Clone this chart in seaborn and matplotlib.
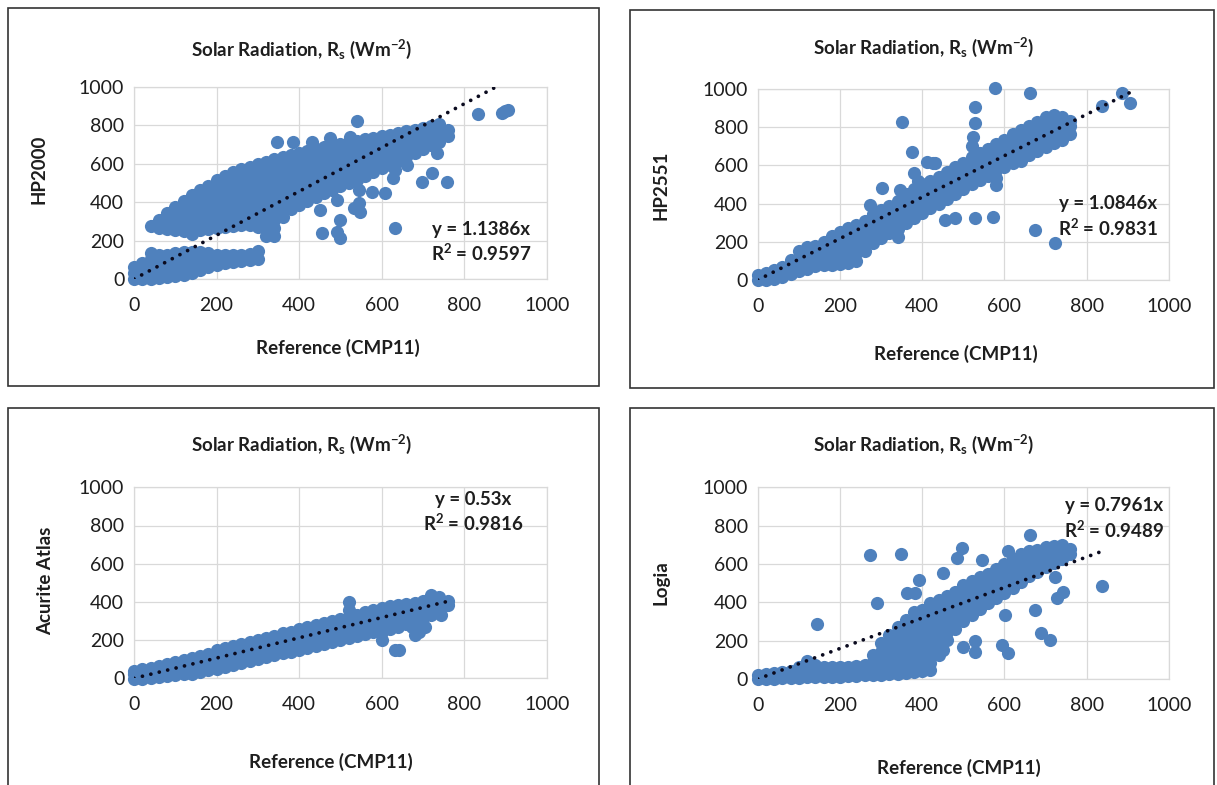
import matplotlib
matplotlib.use("Agg")
import matplotlib.pyplot as plt
import seaborn as sns
import pandas as pd
from matplotlib.patches import Rectangle

# x position of each stacked column of points (Reference CMP11, W m-2)
col_x = [0, 20, 40, 60, 80, 100, 120, 140, 160, 180, 200, 220, 240, 260, 280,
         300, 320, 340, 360, 380, 400, 420, 440, 460, 480, 500, 520, 540, 560,
         580, 600, 620, 640, 660, 680, 700, 720, 740, 760]

# HP2000 readings stacked at each column
hp2000_y = [
    [0, 30, 60], [0, 35, 70, 85], [0, 35, 70, 105, 135, 275],
    [5, 40, 75, 110, 125, 265, 305], [10, 45, 80, 115, 125, 260, 300, 345],
    [15, 50, 85, 120, 135, 255, 295, 335, 375],
    [20, 55, 90, 125, 140, 250, 290, 330, 370, 405],
    [30, 65, 100, 140, 235, 275, 315, 355, 395, 435],
    [45, 80, 110, 140, 255, 295, 335, 375, 415, 465],
    [60, 95, 135, 260, 300, 340, 380, 420, 455, 485],
    [75, 105, 125, 265, 305, 345, 385, 425, 465, 515],
    [85, 125, 270, 310, 350, 390, 430, 470, 505, 535],
    [90, 125, 275, 315, 355, 395, 435, 475, 515, 555],
    [95, 125, 280, 320, 360, 400, 440, 480, 520, 570],
    [100, 130, 280, 320, 360, 400, 440, 480, 520, 555, 585],
    [105, 145, 270, 310, 350, 390, 430, 470, 510, 550, 600],
    [225, 265, 305, 345, 385, 425, 465, 505, 545, 580, 610],
    [225, 265, 305, 345, 385, 425, 465, 505, 545, 585, 625],
    [325, 365, 405, 445, 485, 525, 565, 600, 635],
    [365, 405, 445, 485, 525, 565, 605, 645],
    [385, 425, 465, 505, 545, 585, 620, 655],
    [405, 445, 485, 525, 565, 605, 635, 665],
    [425, 465, 505, 545, 585, 625, 675],
    [445, 485, 525, 565, 605, 645, 685],
    [465, 505, 545, 585, 625, 660, 690],
    [485, 525, 565, 605, 645, 700], [500, 540, 580, 620, 660, 710],
    [515, 555, 595, 635, 675, 720], [535, 575, 615, 655, 695, 730],
    [555, 595, 635, 675, 735], [575, 615, 655, 695, 745],
    [595, 635, 675, 715, 750], [615, 655, 695, 730, 760],
    [635, 675, 715, 770], [655, 695, 735, 775], [675, 715, 750, 785],
    [695, 735, 770, 795], [715, 750, 780, 805], [745, 775],
]
hp2000_out_x = [346, 386, 431, 476, 524, 540, 834, 891, 900, 907, 451, 491, 499,
                455, 491, 499, 474, 532, 544, 548, 544, 576, 608, 628, 633, 661,
                697, 721, 758, 733, 633]
hp2000_out_y = [714, 714, 714, 735, 740, 820, 856, 865, 872, 879, 359, 411, 307,
                237, 246, 211, 497, 367, 393, 350, 463, 454, 445, 523, 567, 593,
                506, 549, 506, 653, 263]

# HP2551
hp2551_y = [
    [0, 25], [0, 35], [5, 50], [15, 45, 70], [30, 65, 105],
    [45, 80, 115, 150], [60, 100, 140, 175], [75, 110, 145, 180],
    [80, 115, 150, 185, 200], [80, 115, 150, 190, 230],
    [85, 125, 165, 205, 250], [90, 130, 170, 210, 250, 270],
    [100, 140, 180, 220, 260, 290], [150, 195, 235, 275, 310],
    [195, 235, 275, 310, 345], [220, 260, 300, 340, 365],
    [245, 285, 325, 360, 385],
    [225, 265, 305, 345, 385, 415], [300, 340, 380, 420, 450],
    [325, 365, 405, 445, 475], [350, 390, 430, 470, 505],
    [375, 415, 455, 490, 520], [400, 440, 480, 515, 540],
    [425, 465, 505, 540, 565], [450, 490, 530, 565, 590],
    [475, 515, 555, 590, 615], [500, 540, 580, 615, 645],
    [525, 565, 605, 640, 665], [545, 585, 625, 665, 685],
    [495, 535, 575, 615, 655, 695, 710], [590, 630, 670, 705, 735],
    [610, 650, 690, 730, 765], [625, 665, 705, 745, 785],
    [655, 695, 735, 770, 805], [675, 715, 755, 790, 825],
    [695, 735, 775, 815, 855], [715, 755, 795, 835, 865],
    [735, 775, 815, 855], [765, 805, 835],
]
hp2551_out_x = [273, 301, 346, 350, 374, 380, 390, 411, 425, 431, 520, 524, 528,
                528, 577, 662, 885, 905, 836, 455, 480, 528, 573, 674, 723]
hp2551_out_y = [393, 480, 471, 829, 672, 560, 520, 620, 615, 611, 700, 750, 820,
                907, 1003, 977, 977, 925, 910, 314, 323, 323, 332, 262, 192]

# Acurite Atlas
acurite_y = [
    [-5, 20, 40], [-5, 25, 50], [0, 30, 55], [5, 35, 65], [10, 45, 75],
    [15, 50, 85], [20, 55, 95], [25, 65, 105], [35, 75, 115], [45, 85, 125],
    [50, 90, 130, 150], [60, 100, 140, 160], [70, 110, 150, 170],
    [80, 120, 155, 180], [90, 130, 165, 190], [100, 140, 175, 200],
    [110, 150, 185, 210], [120, 160, 195, 220], [130, 170, 205, 235],
    [140, 180, 215, 245], [150, 185, 225, 260], [160, 195, 235, 270],
    [170, 205, 245, 280], [180, 215, 255, 290], [190, 225, 265, 300],
    [200, 240, 275, 310], [210, 250, 285, 320, 355, 400],
    [220, 260, 295, 330], [230, 270, 305, 345], [240, 280, 320, 355],
    [200, 240, 280, 320, 355, 370], [260, 300, 340, 380], [270, 310, 350, 385],
    [285, 320, 355, 390], [300, 335, 365, 395], [315, 350, 380, 405],
    [330, 365, 395, 425, 435], [345, 380, 410, 425], [385, 405],
]
acurite_out_x = [632, 642, 673, 681, 690, 705, 742, 745]
acurite_out_y = [148, 150, 270, 227, 240, 270, 340, 330]

# Logia
logia_y = [
    [0, 20], [0, 25], [0, 30], [5, 35], [5, 40], [5, 35, 65], [10, 45, 95],
    [10, 45, 75], [10, 40, 65], [10, 40, 60], [10, 40, 60], [15, 45, 65],
    [15, 45, 70], [20, 50, 75], [20, 55, 90, 125], [20, 60, 100, 140, 190],
    [25, 65, 105, 145, 185, 230], [25, 65, 105, 145, 185, 225, 270],
    [30, 70, 110, 150, 190, 230, 270, 310],
    [35, 75, 115, 155, 195, 235, 275, 315, 350],
    [40, 80, 120, 160, 200, 240, 280, 320, 360],
    [45, 85, 125, 165, 205, 245, 285, 325, 365, 395],
    [125, 165, 205, 245, 285, 325, 365, 410],
    [205, 245, 285, 325, 365, 405, 435], [260, 300, 340, 380, 420, 455],
    [300, 340, 380, 420, 460, 490], [335, 375, 415, 455, 510],
    [365, 405, 445, 485, 530], [395, 435, 475, 515, 550],
    [420, 460, 500, 540, 575], [450, 490, 530, 570, 600],
    [475, 515, 555, 595, 625], [505, 545, 585, 625, 650],
    [535, 575, 615, 655, 670], [560, 600, 640, 675], [585, 625, 660, 690],
    [605, 640, 670, 695], [625, 655, 680, 700], [650, 680],
]
logia_out_x = [143, 273, 348, 289, 362, 383, 391, 451, 496, 484, 545, 609, 662,
               500, 528, 528, 451, 593, 609, 674, 690, 711, 723, 727, 743, 836, 601]
logia_out_y = [287, 647, 652, 398, 447, 447, 517, 551, 685, 630, 621, 668, 751,
               165, 200, 143, 151, 177, 134, 360, 238, 203, 534, 421, 456, 485, 334]

sensors = ["HP2000", "HP2551", "Acurite Atlas", "Logia"]
slopes = [1.1386, 1.0846, 0.53, 0.7961]
r_squared = ["0.9597", "0.9831", "0.9816", "0.9489"]


def build(cols, out_x, out_y):
    xs, ys = [], []
    for x, col in zip(col_x, cols):
        xs += [x] * len(col)
        ys += col
    return pd.DataFrame({"ref": xs + out_x, "sensor": ys + out_y})


frames = [
    build(hp2000_y, hp2000_out_x, hp2000_out_y),
    build(hp2551_y, hp2551_out_x, hp2551_out_y),
    build(acurite_y, acurite_out_x, acurite_out_y),
    build(logia_y, logia_out_x, logia_out_y),
]

sns.set_style("white")
plt.rcParams["font.family"] = ["Lato", "DejaVu Sans"]
plt.rcParams["mathtext.fontset"] = "custom"
plt.rcParams["mathtext.rm"] = "Lato"
plt.rcParams["mathtext.bf"] = "Lato:bold"
plt.rcParams["mathtext.it"] = "Lato:italic"

W, H = 1217, 785
fig = plt.figure(figsize=(W / 100, H / 100), dpi=100)
fig.patch.set_facecolor("white")

# pixel layout of each panel: axes (x0, x1, ytop, ybottom), frame box,
# title, x label, y label and equation centres
layout = [
    dict(ax=(134, 546.7, 86.7, 279), box=(8, 599, 8, 386), title=(302, 49),
         xlab=(338, 348), ylab=(39, 169), eq=(481, 229, 253)),
    dict(ax=(757.7, 1169, 89, 280), box=(630, 1214, 10, 388), title=(924, 47),
         xlab=(956, 354), ylab=(661, 185), eq=(1108, 203, 228)),
    dict(ax=(134, 546.7, 487.3, 678.3), box=(8, 599, 408, 800), title=(302, 444),
         xlab=(331, 762), ylab=(46, 581), eq=(473, 499, 523)),
    dict(ax=(757.7, 1169, 487.3, 679), box=(630, 1214, 408, 800), title=(924, 444),
         xlab=(959, 768), ylab=(661, 583), eq=(1114, 505, 530)),
]

blue = "#4F81BD"
txt = "#1e1e1e"
title = r"Solar Radiation, R$_\mathbf{s}$ (Wm$^{\mathbf{-2}}$)"
fs = 13.5

for df, name, slope, r2, lay in zip(frames, sensors, slopes, r_squared, layout):
    x0, x1, yt, yb = lay["ax"]
    ax = fig.add_axes([x0 / W, 1 - yb / H, (x1 - x0) / W, (yb - yt) / H])
    sns.scatterplot(data=df, x="ref", y="sensor", ax=ax, s=90, color=blue,
                    linewidth=0, clip_on=False, zorder=3)
    xmax = df["ref"].max()
    ax.plot([0, xmax], [0, slope * xmax], color="#0a0a1e", lw=2.7,
            linestyle=(0, (0.01, 2.3)), dash_capstyle="round", zorder=4)
    ax.set_xlim(0, 1000)
    ax.set_ylim(0, 1000)
    ax.set_xticks(range(0, 1001, 200))
    ax.set_yticks(range(0, 1001, 200))
    ax.grid(True, color="#D9D9D9", lw=0.9)
    ax.set_axisbelow(True)
    for sp in ax.spines.values():
        sp.set_color("#D9D9D9")
        sp.set_linewidth(0.9)
    ax.tick_params(axis="x", length=0, pad=13, labelsize=14, labelcolor=txt)
    ax.tick_params(axis="y", length=0, pad=7, labelsize=14, labelcolor=txt)
    ax.set_xlabel("")
    ax.set_ylabel("")

    bx0, bx1, by0, by1 = lay["box"]
    fig.patches.append(Rectangle((bx0 / W, 1 - by1 / H), (bx1 - bx0) / W,
                                 (by1 - by0) / H, transform=fig.transFigure,
                                 fill=False, edgecolor="#333333", lw=1.2))

    tx, ty = lay["title"]
    fig.text(tx / W, 1 - ty / H, title, ha="center", va="center",
             fontsize=fs, fontweight="bold", color=txt)
    lx, ly = lay["xlab"]
    fig.text(lx / W, 1 - ly / H, "Reference (CMP11)", ha="center", va="center",
             fontsize=fs, fontweight="bold", color=txt)
    vx, vy = lay["ylab"]
    fig.text(vx / W, 1 - vy / H, name, ha="center", va="center", rotation=90,
             fontsize=fs, fontweight="bold", color=txt)
    ex, ey1, ey2 = lay["eq"]
    fig.text(ex / W, 1 - ey1 / H, f"y = {slope}x", ha="center", va="center",
             fontsize=fs, fontweight="bold", color=txt)
    fig.text(ex / W, 1 - ey2 / H, r"R$^{\mathbf{2}}$ = " + r2, ha="center",
             va="center", fontsize=fs, fontweight="bold", color=txt)

fig.savefig("out.png", dpi=100)
